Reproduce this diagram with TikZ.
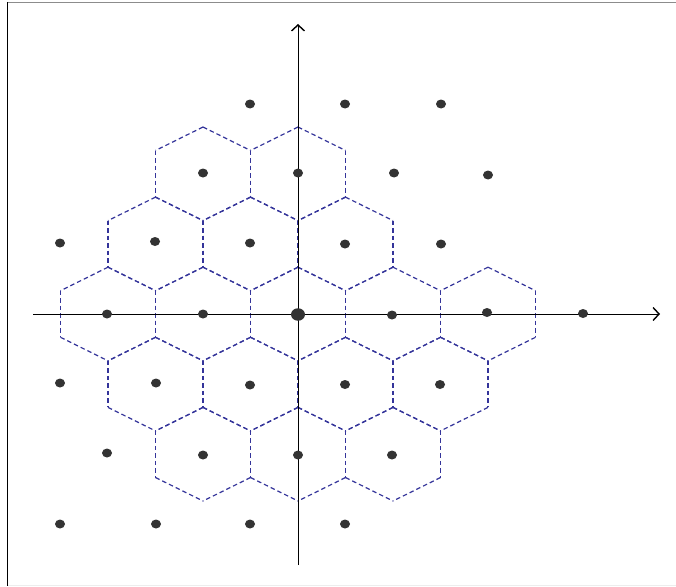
\documentclass[tikz,border=0pt]{standalone}
\usetikzlibrary{arrows.meta,shapes.geometric}
\definecolor{hexblue}{HTML}{34349A}
\definecolor{dotgray}{HTML}{333333}
\tikzset{
  hexcell/.style={draw=hexblue, line width=1.2pt, dash pattern=on 4.5pt off 3pt, line cap=butt},
  latdot/.style={ellipse, fill=dotgray, inner sep=0pt, minimum width=10pt, minimum height=9pt, draw=none},
  origindot/.style={ellipse, fill=dotgray, inner sep=0pt, minimum width=14pt, minimum height=12.5pt, draw=none},
  axisline/.style={draw=black, line width=1pt, -{Straight Barb[length=6pt,width=13pt,line width=1.4pt]}},
}
\begin{document}
\begin{tikzpicture}[x=1pt,y=-1pt]
  \useasboundingbox (0,0) rectangle (676,586);
  % frame
  \draw[draw=gray!90, line width=1.5pt] (7,2.5) -- (676,2.5);
  \draw[draw=black, line width=1.5pt] (7.5,2) -- (7.5,586);
  \draw[draw=black!7, line width=1pt] (8,585.5) -- (676,585.5);
  % hexagonal cells, every edge drawn downward so shared edges coincide
  \foreach \k/\j in {-2/-2, 0/-2,
                     -3/-1, -1/-1, 1/-1,
                     -4/0, -2/0, 0/0, 2/0, 4/0,
                     -3/1, -1/1, 1/1, 3/1,
                     -2/2, 0/2, 2/2} {
    \pgfmathsetmacro{\cx}{298+47.5*\k}
    \pgfmathsetmacro{\cy}{314+70.1*\j}
    \coordinate (T) at (\cx,\cy-46.8);
    \coordinate (UR) at (\cx+47.5,\cy-23.3);
    \coordinate (LR) at (\cx+47.5,\cy+23.3);
    \coordinate (B) at (\cx,\cy+46.8);
    \coordinate (LL) at (\cx-47.5,\cy+23.3);
    \coordinate (UL) at (\cx-47.5,\cy-23.3);
    \draw[hexcell] (T) -- (UR);
    \draw[hexcell] (T) -- (UL);
    \draw[hexcell] (UR) -- (LR);
    \draw[hexcell] (UL) -- (LL);
    \draw[hexcell] (LR) -- (B);
    \draw[hexcell] (LL) -- (B);
  }
  % axes
  \coordinate (xs) at (33,314);
  \coordinate (xe) at (660,314);
  \coordinate (ys) at (298,565);
  \coordinate (ye) at (298,24);
  \draw[axisline] (xs) -- (xe);
  \draw[axisline] (ys) -- (ye);
  % lattice points
  \foreach \x/\y [count=\n] in {
     250/104, 345/104, 441/104,
     203/173, 298/173, 394/173, 488/175,
     60/243, 155/241.5, 250/243, 345/244, 441/244,
     107/314, 203/314, 392/315, 487/312.5, 583/313.5,
     60/383, 156/383, 250/385, 345/384.5, 440/384.5,
     107/453, 203/455, 298/455, 392/455,
     60/524, 156/524, 250/524, 345/524} {
    \node[latdot] (p\n) at (\x,\y) {};
  }
  \node[origindot] (o) at (298,314.5) {};
\end{tikzpicture}
\end{document}
